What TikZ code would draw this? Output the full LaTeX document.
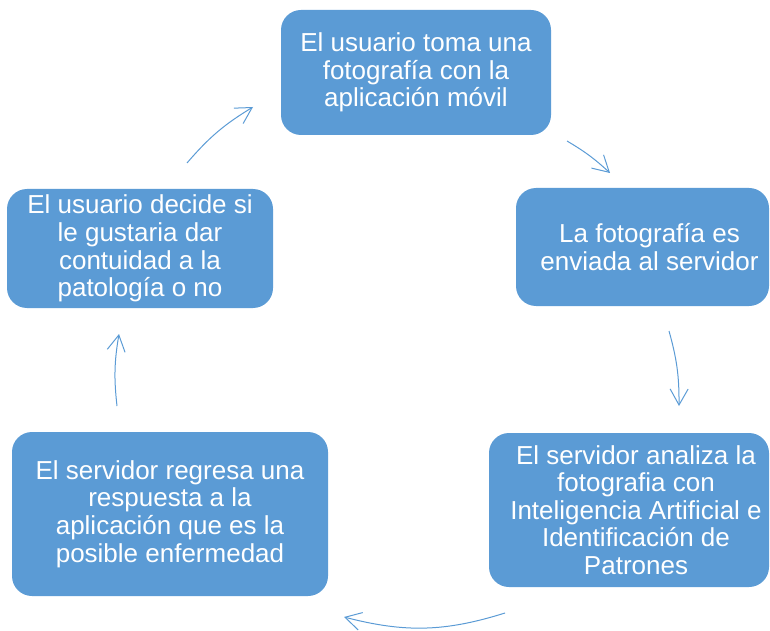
\documentclass[tikz,border=0pt]{standalone}
\usepackage{fontspec}
\setmainfont{Liberation Sans}
\usetikzlibrary{arrows.meta}
\definecolor{boxblue}{HTML}{5B9BD5}
\newcommand{\rsh}{\hspace*{14pt}}
\tikzset{
  box/.style={fill=boxblue, draw=none, rounded corners=20pt, text=white,
    align=center, font=\fontsize{26}{27.6}\selectfont, inner sep=0pt},
  cyc/.style={draw=boxblue, line width=1pt,
    -{Straight Barb[length=16pt, width=18pt, line width=1pt]}}
}
\begin{document}
\begin{tikzpicture}[x=1pt, y=1pt]
\useasboundingbox (0,0) rectangle (770,630);
\node[box, minimum width=270pt, minimum height=125pt] (b1) at (416,557.5)
  {El usuario toma una\\fotografía con la\\aplicación móvil};
\node[box, minimum width=253pt, minimum height=118pt] (b2) at (642.5,383)
  {\rsh La fotografía es\\\rsh enviada al servidor};
\node[box, minimum width=280pt, minimum height=154pt] (b3) at (629,120)
  {\rsh El servidor analiza la\\\rsh fotografia con\\\rsh Inteligencia Artificial e\\\rsh Identificación de\\\rsh Patrones};
\node[box, minimum width=316pt, minimum height=164pt] (b4) at (170,116)
  {El servidor regresa una\\respuesta a la\\aplicación que es la\\posible enfermedad};
\node[box, minimum width=266pt, minimum height=119pt] (b5) at (140,381.5)
  {El usuario decide si\\le gustaria dar\\contuidad a la\\patología o no};
% connector end points
\coordinate (a1s) at (187,467); \coordinate (a1e) at (253,523);
\coordinate (a2s) at (567,489); \coordinate (a2e) at (610,457);
\coordinate (a3s) at (669,299); \coordinate (a3e) at (679,224);
\coordinate (a4s) at (505,17);  \coordinate (a4e) at (344,13);
\coordinate (a5s) at (117,224); \coordinate (a5e) at (119,296);
\draw[cyc] (a1s) to[bend left=9] (a1e);
\draw[cyc] (a2s) to[bend left=6] (a2e);
\draw[cyc] (a3s) to[bend left=8] (a3e);
\draw[cyc] (a4s) to[bend left=16] (a4e);
\draw[cyc] (a5s) to[bend left=8] (a5e);
\end{tikzpicture}
\end{document}
